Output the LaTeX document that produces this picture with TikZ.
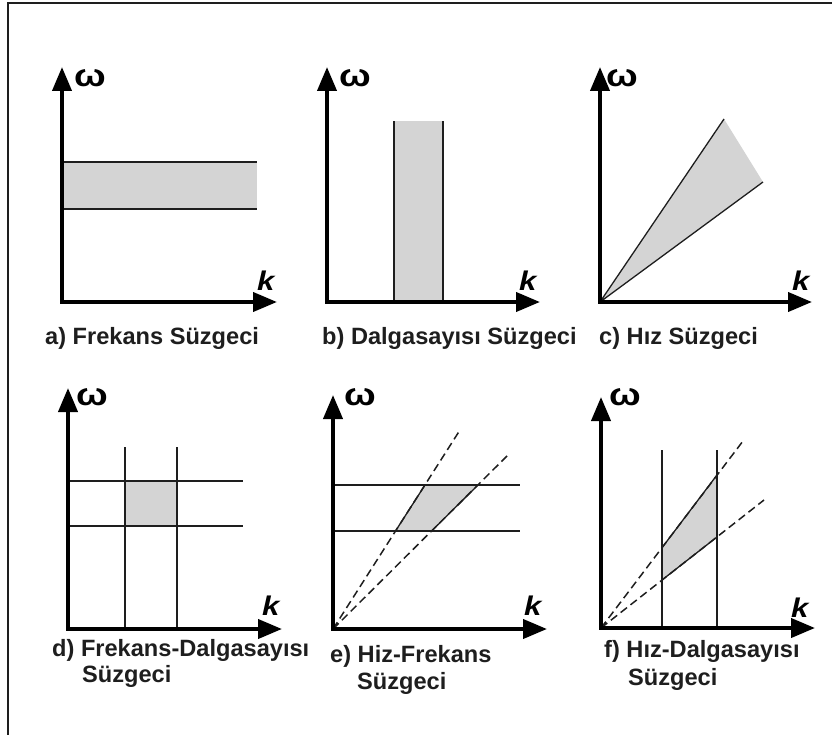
\documentclass[tikz,border=0pt]{standalone}
\usepackage{fontspec}
\setmainfont{Liberation Sans}
\usetikzlibrary{arrows.meta}
\definecolor{bandgray}{RGB}{212,212,212}
\definecolor{inkdark}{RGB}{30,30,30}
\newcommand{\wideomega}{\scalebox{1.25}[1.05]{ω}}
\newcommand{\widek}{\scalebox{1.15}[1]{k}}
\tikzset{
  axis/.style={line width=4pt, draw=black, line join=miter,
    {Triangle[length=24pt,width=19pt]}-{Triangle[length=24pt,width=19pt]}},
  thinline/.style={line width=1.3pt, draw=inkdark},
  dashline/.style={line width=1.5pt, draw=inkdark, dash pattern=on 8pt off 4.5pt},
  band/.style={fill=bandgray},
  caption/.style={anchor=base west, inner sep=0pt, font=\fontsize{23.6}{28}\selectfont\bfseries, text=inkdark},
  omegalbl/.style={anchor=base west, inner sep=0pt, font=\fontsize{30}{32}\selectfont\bfseries},
  klbl/.style={anchor=base west, inner sep=0pt, font=\fontsize{27}{29}\selectfont\bfseries\itshape},
  frame/.style={line width=2.5pt, draw=inkdark}
}
\begin{document}
\begin{tikzpicture}[x=1pt,y=-1pt]
\useasboundingbox (0,0) rectangle (832,735);
% frame
\coordinate (fTR) at (832,3);
\coordinate (fTL) at (8,3);
\coordinate (fBL) at (8,735);
\draw[frame] (fTR) -- (fTL) -- (fBL);

% ---------- a) ----------
\coordinate (aO) at (62,302);
\coordinate (aY) at (62,67);
\coordinate (aX) at (277,302);
\fill[band] (62,162) rectangle (257,209);
\draw[thinline] (62,162) -- (257,162) (62,209) -- (257,209);
\draw[axis] (aY) -- (aO) -- (aX);
\node[omegalbl] (aw) at (74,87) {\wideomega};
\node[klbl] (ak) at (257,290) {\widek};
\node[caption] (acap) at (45,344) {a) Frekans Süzgeci};

% ---------- b) ----------
\coordinate (bO) at (327,302);
\coordinate (bY) at (327,67);
\coordinate (bX) at (540,302);
\fill[band] (394,121) rectangle (443,302);
\draw[thinline] (394,302) -- (394,121) (443,302) -- (443,121);
\draw[axis] (bY) -- (bO) -- (bX);
\node[omegalbl] (bw) at (339,87) {\wideomega};
\node[klbl] (bk) at (519,290) {\widek};
\node[caption] (bcap) at (322,344) {b) Dalgasayısı Süzgeci};

% ---------- c) ----------
\coordinate (cO) at (600,302);
\coordinate (cY) at (600,67);
\coordinate (cX) at (812,302);
\coordinate (cA) at (724,119);
\coordinate (cB) at (763,182);
\fill[band] (cO) -- (cA) -- (cB) -- cycle;
\draw[thinline] (cO) -- (cA) (cO) -- (cB);
\draw[axis] (cY) -- (cO) -- (cX);
\node[omegalbl] (cw) at (606,87) {\wideomega};
\node[klbl] (ck) at (792,290) {\widek};
\node[caption] (ccap) at (599,344) {c) Hız Süzgeci};

% ---------- d) ----------
\coordinate (dO) at (68,629);
\coordinate (dY) at (68,388);
\coordinate (dX) at (282,629);
\fill[band] (125,481) rectangle (177,526);
\draw[thinline] (125,447) -- (125,629) (177,447) -- (177,629)
  (68,481) -- (243,481) (68,526) -- (243,526);
\draw[axis] (dY) -- (dO) -- (dX);
\node[omegalbl] (dw) at (76,405) {\wideomega};
\node[klbl] (dk) at (262,615) {\widek};
\node[caption] (dcap1) at (52,656) {d) Frekans-Dalgasayısı};
\node[caption] (dcap2) at (82,682) {Süzgeci};

% ---------- e) ----------
\coordinate (eO) at (333,629);
\coordinate (eY) at (333,395);
\coordinate (eX) at (547,629);
\coordinate (eS) at (460,430);
\coordinate (eL) at (508,455);
\coordinate (e1) at (395.5,531);
\coordinate (e2) at (425,485);
\coordinate (e3) at (478,485);
\coordinate (e4) at (431.6,531);
\fill[band] (e1) -- (e2) -- (e3) -- (e4) -- cycle;
\draw[thinline] (333,485) -- (520,485) (333,531) -- (520,531);
\draw[dashline] (eO) -- (eS) (eO) -- (eL);
\draw[thinline] (e1) -- (e2) (e4) -- (e3);
\draw[axis] (eY) -- (eO) -- (eX);
\node[omegalbl] (ew) at (344,405) {\wideomega};
\node[klbl] (ek) at (524,615) {\widek};
\node[caption] (ecap1) at (330,662) {e) Hiz-Frekans};
\node[caption] (ecap2) at (357,689) {Süzgeci};

% ---------- f) ----------
\coordinate (fO) at (601,628);
\coordinate (fY) at (601,397);
\coordinate (fX) at (815,628);
\coordinate (fS) at (743,441);
\coordinate (fL) at (764,500);
\coordinate (f1) at (662,547.7);
\coordinate (f2) at (717,475);
\coordinate (f3) at (717,537);
\coordinate (f4) at (662,580);
\fill[band] (f1) -- (f2) -- (f3) -- (f4) -- cycle;
\draw[thinline] (662,450) -- (662,628) (717,450) -- (717,628);
\draw[dashline] (fO) -- (fS) (fO) -- (fL);
\draw[thinline] (f1) -- (f2) (f4) -- (f3);
\draw[axis] (fY) -- (fO) -- (fX);
\node[omegalbl] (fw) at (609,405) {\wideomega};
\node[klbl] (fk) at (791,617) {\widek};
\node[caption] (fcap1) at (604,657) {f) Hız-Dalgasayısı};
\node[caption] (fcap2) at (628,685) {Süzgeci};
\end{tikzpicture}
\end{document}
